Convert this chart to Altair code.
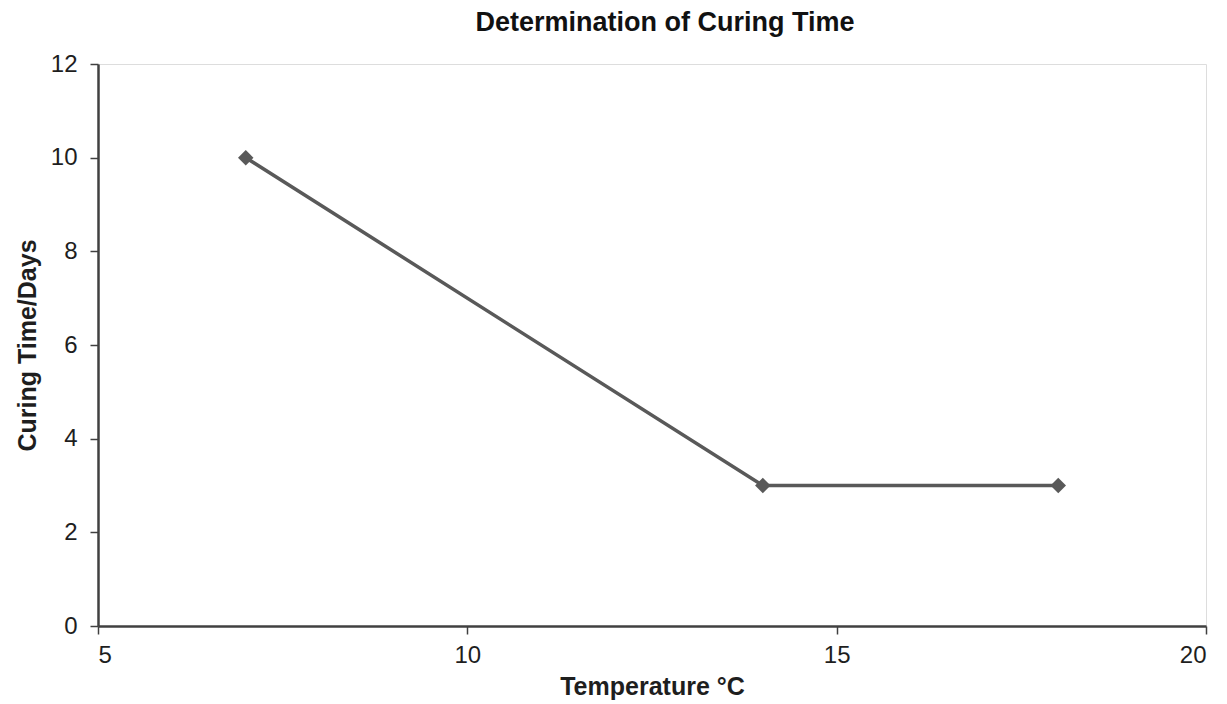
import altair as alt
import pandas as pd

temperature = [7, 14, 18]
curing_days = [10, 3, 3]

df = pd.DataFrame({"Temperature": temperature, "Days": curing_days})

FONT = "Liberation Sans"
COL = "#595959"
TXT = "#1e1e1e"

base = alt.Chart(df)

line = base.mark_line(color=COL, strokeWidth=3.5).encode(
    x=alt.X("Temperature:Q",
            scale=alt.Scale(domain=[5, 20], nice=False, zero=False),
            axis=alt.Axis(title="Temperature °C", values=[5, 10, 15, 20], format="d",
                          grid=False, domainColor="#404040", domainWidth=2.5,
                          tickColor="#404040", tickWidth=1.5, tickSize=8,
                          labelFontSize=24, labelColor=TXT, labelPadding=9,
                          titleFontSize=25, titleFontWeight="bold", titleColor=TXT,
                          titlePadding=7, labelFont=FONT, titleFont=FONT)),
    y=alt.Y("Days:Q",
            scale=alt.Scale(domain=[0, 12], nice=False),
            axis=alt.Axis(title="Curing Time/Days", values=[0, 2, 4, 6, 8, 10, 12], format="d",
                          grid=False, domainColor="#404040", domainWidth=2.5,
                          tickColor="#404040", tickWidth=1.5, tickSize=8,
                          labelFontSize=24, labelColor=TXT, labelPadding=13,
                          titleFontSize=25, titleFontWeight="bold", titleColor=TXT,
                          titlePadding=10, labelFont=FONT, titleFont=FONT)),
)

points = base.mark_point(shape="diamond", filled=True, color=COL, size=240, opacity=1).encode(
    x="Temperature:Q", y="Days:Q"
)

chart = (line + points).properties(
    width=1108, height=562,
    title=alt.TitleParams("Determination of Curing Time", font=FONT, fontSize=27,
                          fontWeight="bold", color="#111111", anchor="middle",
                          dx=13, offset=15),
    autosize=alt.AutoSizeParams(type="none"),
    padding={"left": 90, "top": 56, "right": 10, "bottom": 76},
).configure_view(stroke="#9a9a9a", strokeWidth=2).configure(background="white")

chart.save("out.html", embed_options={"renderer": "svg", "actions": False})
